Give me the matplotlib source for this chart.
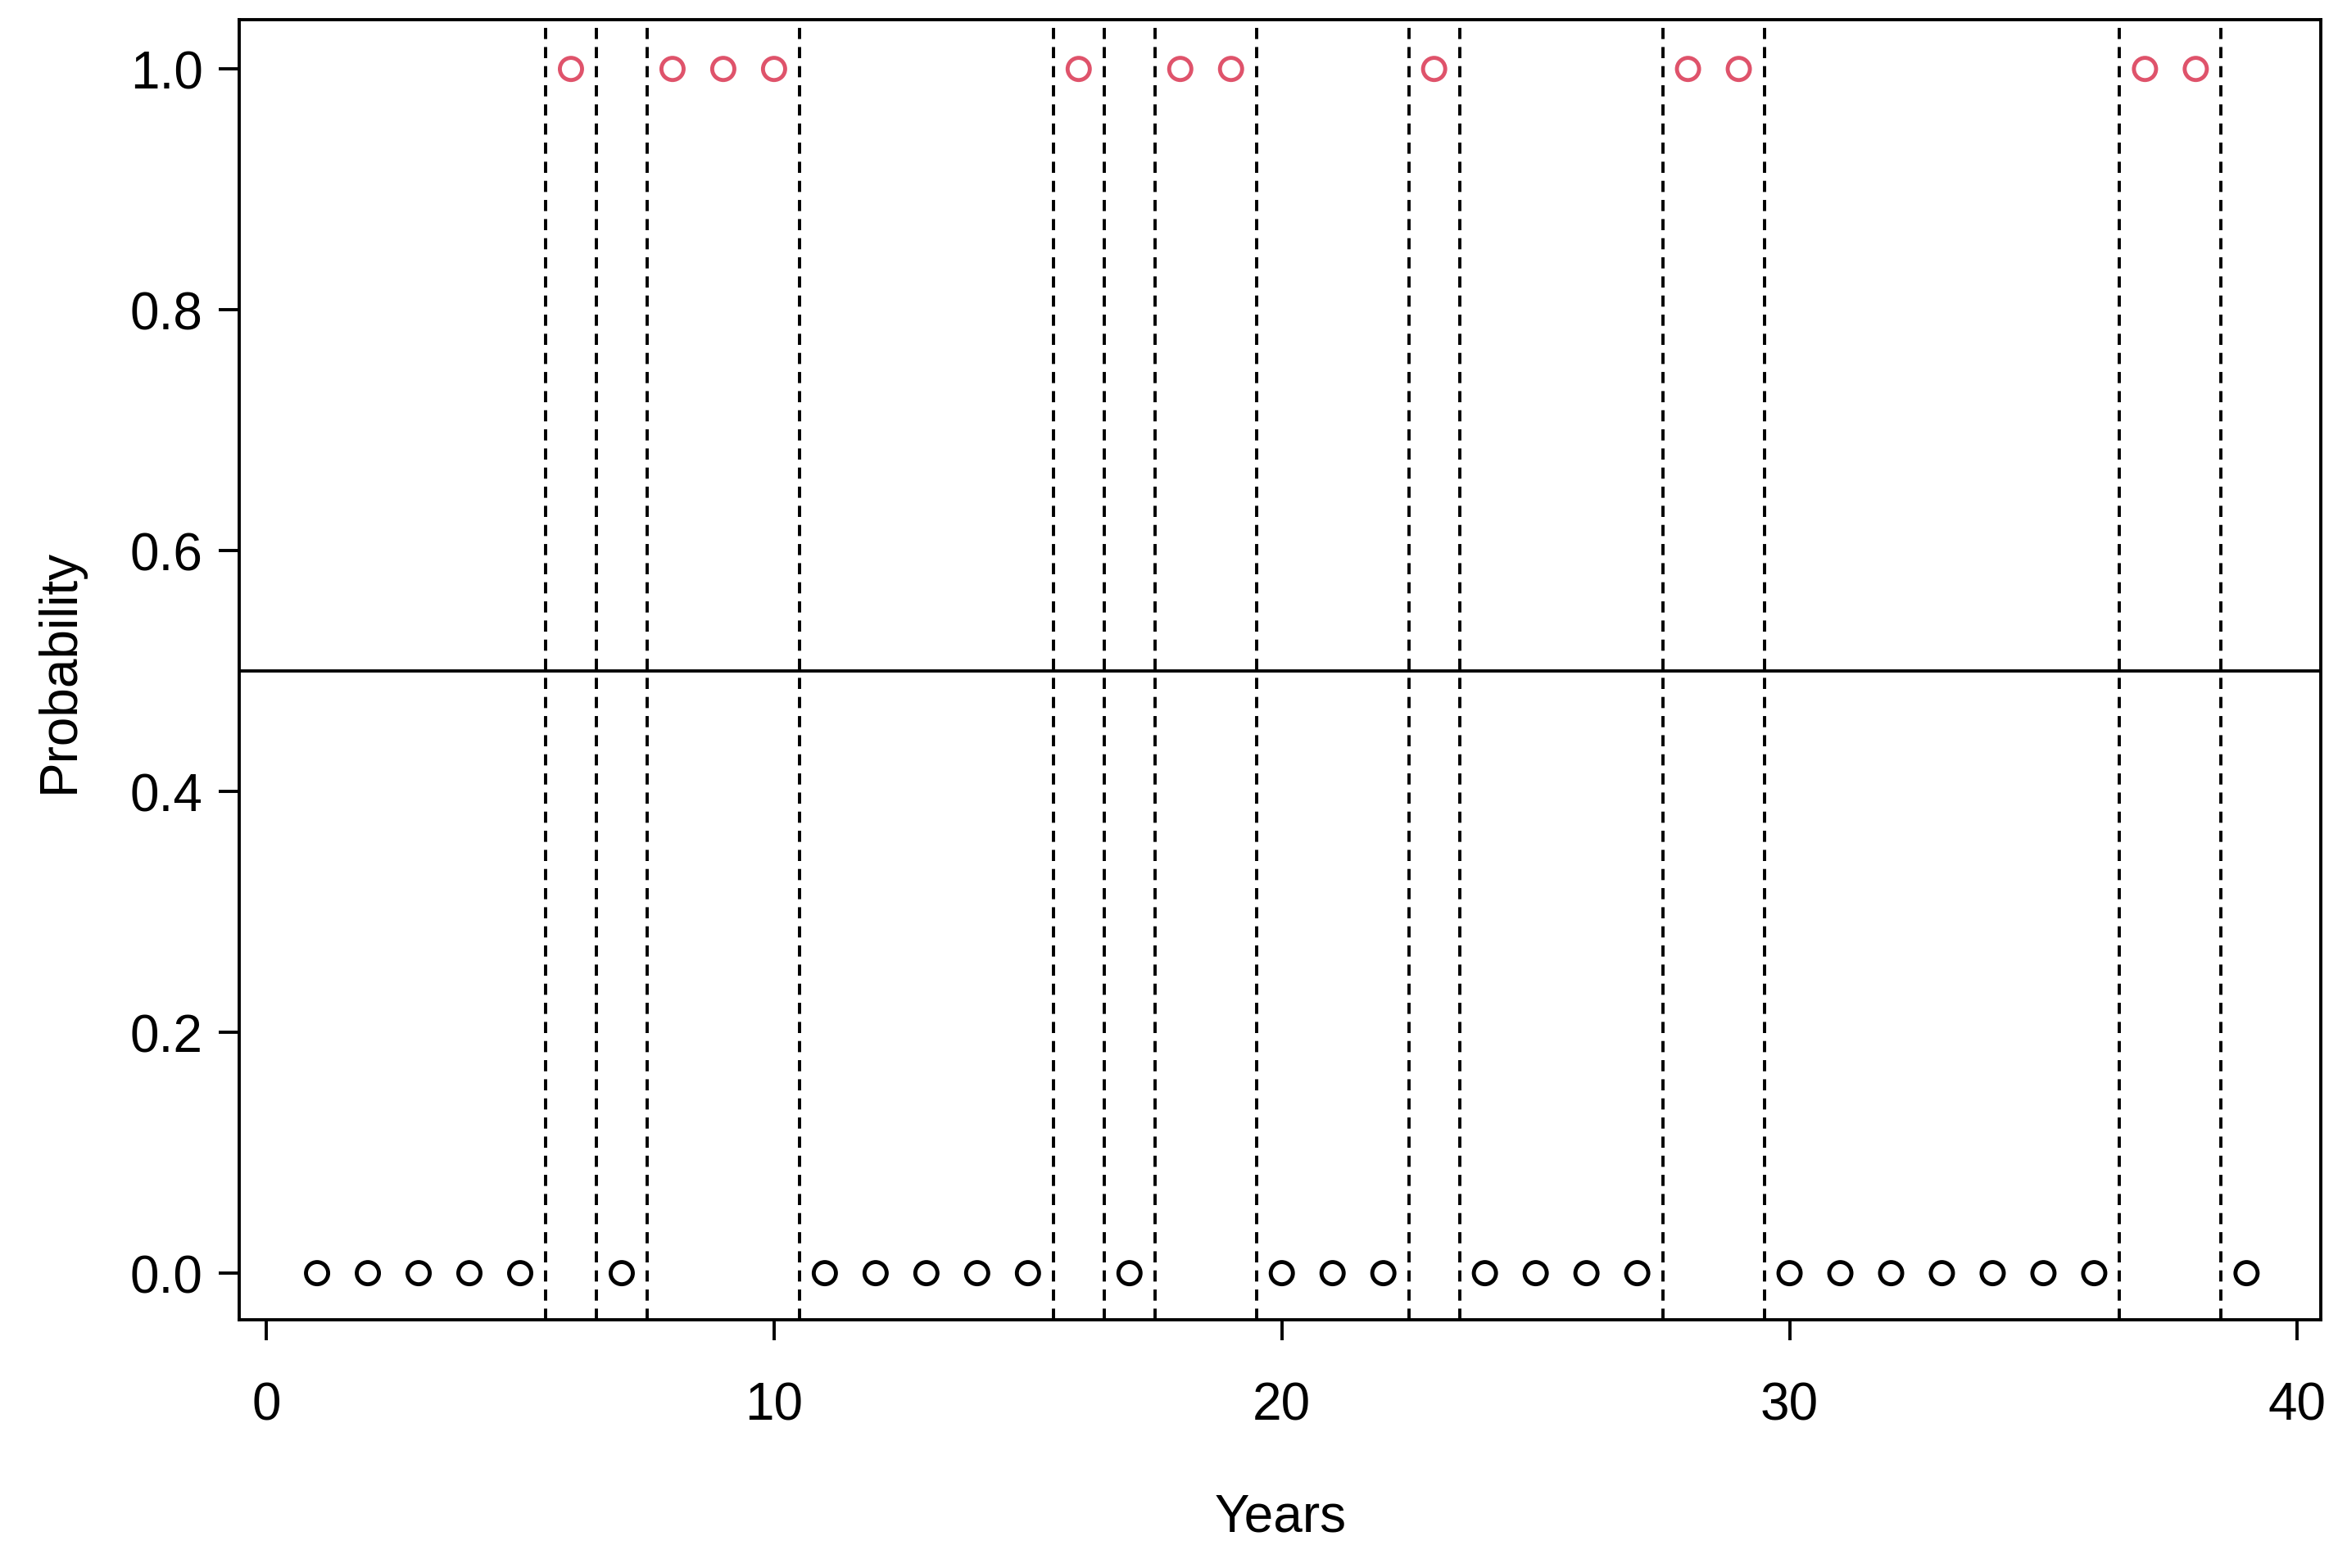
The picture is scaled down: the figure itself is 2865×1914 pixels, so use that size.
import matplotlib
matplotlib.use("Agg")
import matplotlib.pyplot as plt

years = list(range(1, 40))
ones = [6, 8, 9, 10, 16, 18, 19, 23, 28, 29, 37, 38]
values = [1 if y in ones else 0 for y in years]
breaks = [5.5, 6.5, 7.5, 10.5, 15.5, 16.5, 17.5, 19.5, 22.5, 23.5, 27.5, 29.5, 36.5, 38.5]

plt.rcParams["font.family"] = ["Liberation Sans", "DejaVu Sans"]
plt.rcParams["font.size"] = 46

fig = plt.figure(figsize=(28.65, 19.15), dpi=100)
ax = fig.add_axes([0.102, 0.158, 0.887, 0.829])

cols = ["#DF536B" if v == 1 else "black" for v in values]
ax.scatter(years, values, s=380, facecolors="none", edgecolors=cols, linewidths=3.5, zorder=3)
for b in breaks:
    ax.axvline(b, color="black", linestyle=(0, (3.5, 2.5)), linewidth=2.8)
ax.axhline(0.5, color="black", linewidth=2.8)

ax.set_xlim(-0.53, 40.47)
ax.set_ylim(-0.039, 1.041)
ax.set_xticks([0, 10, 20, 30, 40])
ax.set_yticks([0, 0.2, 0.4, 0.6, 0.8, 1.0])
ax.set_yticklabels(["0.0", "0.2", "0.4", "0.6", "0.8", "1.0"])
for s in ax.spines.values():
    s.set_linewidth(2.8)
ax.tick_params(axis="x", length=18, width=2.8, pad=35)
ax.tick_params(axis="y", length=18, width=2.8, pad=14)
ax.set_xlabel("Years", labelpad=55)
ax.set_ylabel("Probability", labelpad=40)

fig.savefig("out.png", dpi=100)
